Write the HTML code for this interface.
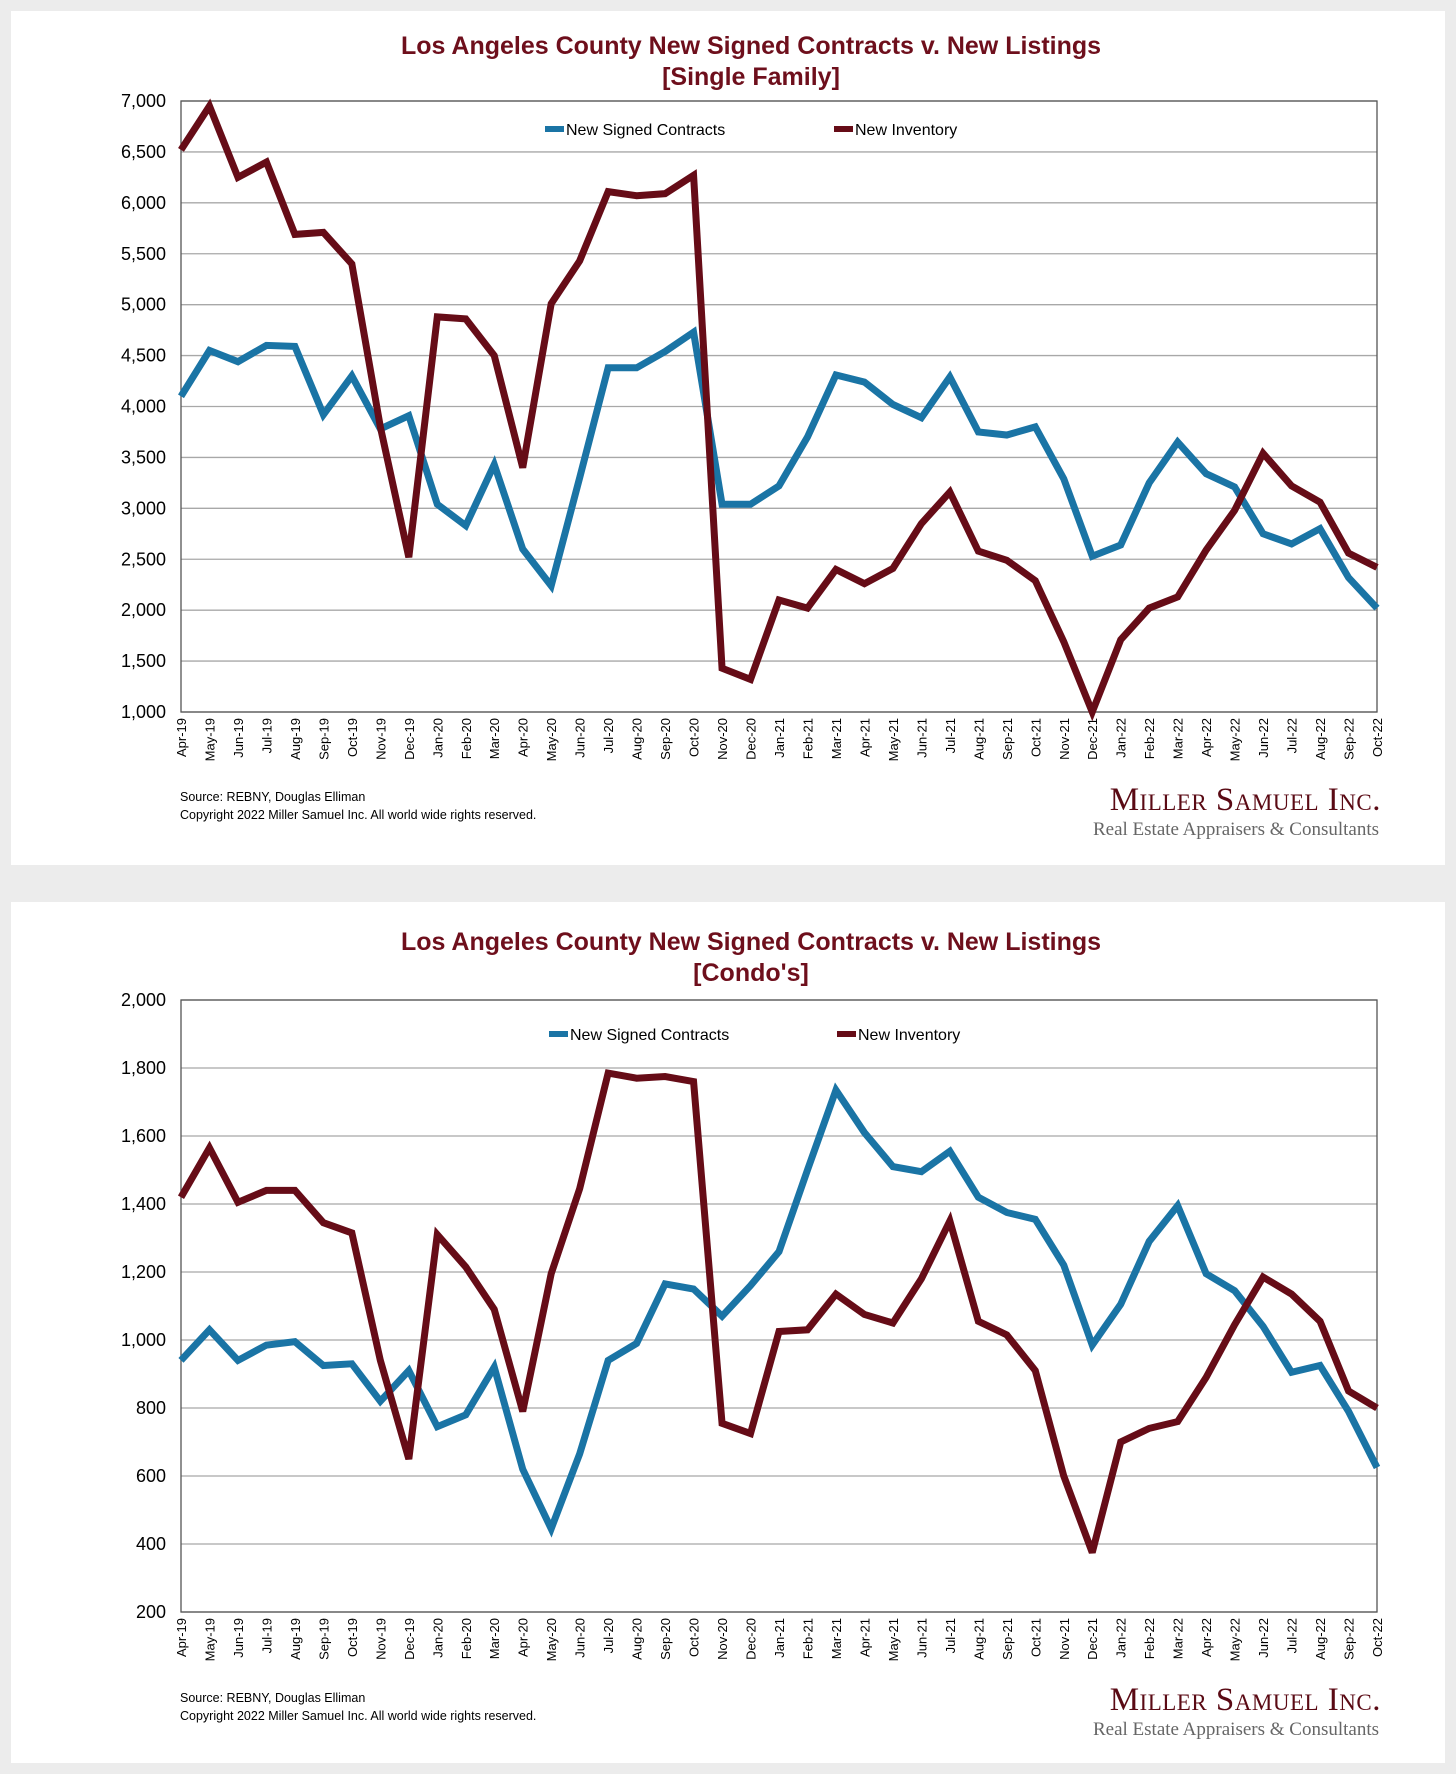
<!DOCTYPE html>
<html><head><meta charset="utf-8"><style>
body{margin:0;background:#ececec;}
svg{display:block}
text{font-family:"Liberation Sans",sans-serif}
</style></head><body>
<svg id="s" width="1456" height="1774" xmlns="http://www.w3.org/2000/svg">
<rect x="0" y="0" width="1456" height="1774" fill="#ececec"/>
</svg>
<script>
const months=["Apr-19","May-19","Jun-19","Jul-19","Aug-19","Sep-19","Oct-19","Nov-19","Dec-19","Jan-20","Feb-20","Mar-20","Apr-20","May-20","Jun-20","Jul-20","Aug-20","Sep-20","Oct-20","Nov-20","Dec-20","Jan-21","Feb-21","Mar-21","Apr-21","May-21","Jun-21","Jul-21","Aug-21","Sep-21","Oct-21","Nov-21","Dec-21","Jan-22","Feb-22","Mar-22","Apr-22","May-22","Jun-22","Jul-22","Aug-22","Sep-22","Oct-22"];
const sfContracts=[4100,4550,4440,4600,4590,3920,4300,3780,3910,3040,2830,3430,2600,2240,3300,4380,4380,4540,4730,3040,3040,3220,3700,4310,4240,4020,3890,4290,3750,3720,3800,3290,2530,2640,3250,3650,3340,3210,2750,2650,2800,2320,2020];
const sfInventory=[6520,6950,6250,6400,5690,5710,5400,3800,2520,4880,4860,4500,3400,5010,5430,6110,6070,6090,6270,1430,1320,2100,2020,2400,2260,2410,2850,3160,2580,2490,2290,1690,1000,1710,2020,2130,2590,2980,3540,3220,3060,2560,2420];
const condoContracts=[940,1030,940,985,995,925,930,820,910,745,780,920,620,445,665,940,990,1165,1150,1070,1160,1260,1500,1735,1610,1510,1495,1555,1420,1375,1355,1220,985,1105,1290,1395,1195,1145,1040,905,925,790,625];
const condoInventory=[1420,1565,1405,1440,1440,1345,1315,940,650,1310,1215,1090,790,1195,1445,1785,1770,1775,1760,755,725,1025,1030,1135,1075,1050,1180,1350,1055,1015,910,600,375,700,740,760,890,1045,1185,1135,1055,850,800];
const sfTicks=[1000,1500,2000,2500,3000,3500,4000,4500,5000,5500,6000,6500,7000];
const condoTicks=[200,400,600,800,1000,1200,1400,1600,1800,2000];

const NS="http://www.w3.org/2000/svg";
const svg=document.getElementById('s');
function mk(tag,attrs,parent,txt){const e=document.createElementNS(NS,tag);for(const k in attrs)e.setAttribute(k,attrs[k]);if(txt!==undefined)e.textContent=txt;(parent||svg).appendChild(e);return e;}
const BLUE="#1a74a5",RED="#660c17",TITLE="#6e0f1c";

function chart(cfg){
  const g=mk('g',{});
  
  
  const p=mk('rect',{x:11,y:cfg.py,width:1434,height:cfg.ph,fill:'#fff'},g);
  
  
  const t1=mk('text',{x:751,y:cfg.ty,'text-anchor':'middle','font-size':25,'font-weight':'bold',fill:TITLE},g,cfg.title1);
  
  
  const t2=mk('text',{x:751,y:cfg.ty+31,'text-anchor':'middle','font-size':25,'font-weight':'bold',fill:TITLE},g,cfg.title2);
  
  
  const L=181,R=1377,T=cfg.top,B=cfg.bottom;
  const mn=cfg.ticks[0],mx=cfg.ticks[cfg.ticks.length-1];
  const y=v=>B-(v-mn)/(mx-mn)*(B-T);
  const x=i=>L+i*(R-L)/(months.length-1);
  cfg.ticks.forEach(v=>{
    const gl=mk('line',{x1:L,x2:R,y1:y(v),y2:y(v),stroke:'#a8a8a8','stroke-width':1.3},g);
    
    
    const tl=mk('text',{x:166,y:y(v)+6,'text-anchor':'end','font-size':18,fill:'#000'},g,v.toLocaleString('en-US'));
    
    
  });
  const fr=mk('rect',{x:L,y:T,width:R-L,height:B-T,fill:'none',stroke:'#555','stroke-width':1.3},g);
  
  
  months.forEach((m,i)=>{
    const tx=mk('text',{transform:`translate(${x(i)+5},${B+6}) rotate(-90)`,'text-anchor':'end','font-size':13,fill:'#000'},g,m);
    
    
  });
  [[cfg.c,BLUE,'new-signed-contracts-line'],[cfg.inv,RED,'new-inventory-line']].forEach(([d,c,n])=>{
    const pl=mk('polyline',{points:d.map((v,i)=>x(i)+','+y(v)).join(' '),fill:'none',stroke:c,'stroke-width':7,'stroke-linejoin':'miter','stroke-miterlimit':3},g);
    
    
  });
  [[cfg.lx1,BLUE,'New Signed Contracts','legend-contracts'],[cfg.lx2,RED,'New Inventory','legend-inventory']].forEach(([lx,c,s,n])=>{
    const lg=mk('g',{},g);
    
    
    mk('line',{x1:lx,x2:lx+19,y1:cfg.ly,y2:cfg.ly,stroke:c,'stroke-width':6},lg);
    mk('text',{x:lx+21,y:cfg.ly+6,'font-size':16,fill:'#000'},lg,s);
  });
  const s1=mk('text',{x:180,y:cfg.sy,'font-size':12.5,fill:'#000'},g,'Source: REBNY, Douglas Elliman');
  
  
  const s2=mk('text',{x:180,y:cfg.sy+18,'font-size':12.5,fill:'#000'},g,'Copyright 2022 Miller Samuel Inc.  All world wide rights reserved.');
  
  
  const lo=mk('text',{x:1381,y:cfg.logoy,'text-anchor':'end','font-size':33,fill:'#5a0a14',style:'font-family:"Liberation Serif",serif;font-variant:small-caps;letter-spacing:0.5px'},g,'Miller Samuel Inc.');
  
  
  const lo2=mk('text',{x:1379,y:cfg.logoy+25,'text-anchor':'end','font-size':19,fill:'#666',style:'font-family:"Liberation Serif",serif'},g,'Real Estate Appraisers & Consultants');
  
  
}
chart({name:'single-family-chart',py:11,ph:854,ty:54,title1:'Los Angeles County New Signed Contracts v. New Listings',title2:'[Single Family]',top:101,bottom:712,ticks:sfTicks,c:sfContracts,inv:sfInventory,lx1:545,lx2:834,ly:129,sy:801,logoy:810});
chart({name:'condo-chart',py:902,ph:861,ty:950,title1:'Los Angeles County New Signed Contracts v. New Listings',title2:"[Condo's]",top:1000,bottom:1612,ticks:condoTicks,c:condoContracts,inv:condoInventory,lx1:549,lx2:837,ly:1034,sy:1702,logoy:1710});
</script>
</body></html>
